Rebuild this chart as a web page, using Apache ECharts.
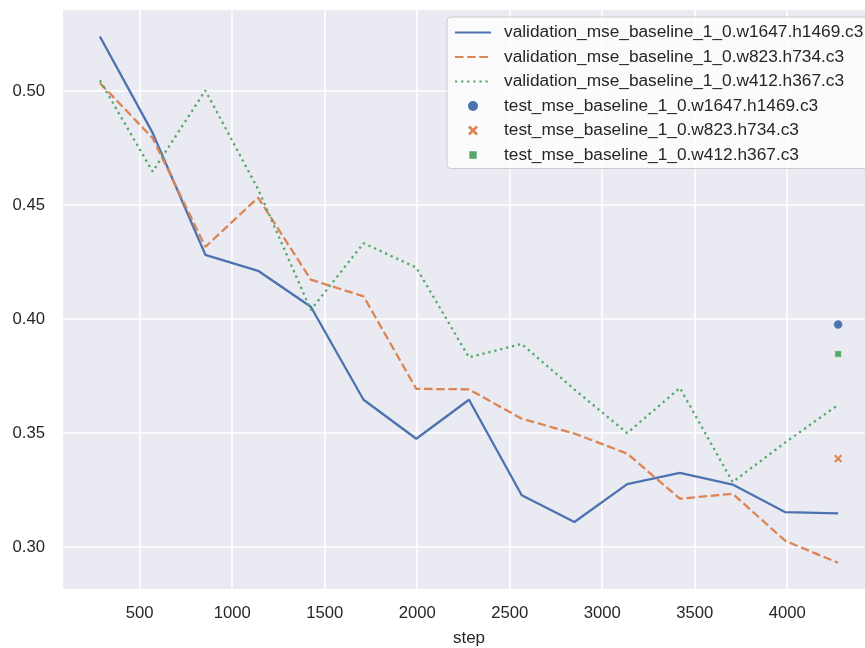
<!DOCTYPE html>
<html>
<head>
<meta charset="utf-8">
<script src="https://cdn.jsdelivr.net/npm/echarts@6/dist/echarts.min.js"></script>
<style>
  html, body { margin: 0; padding: 0; background: #ffffff; }
  #chart { width: 865px; height: 648px; }
</style>
</head>
<body>
<div id="chart"></div>
<script>
// Training steps at which validation MSE was logged
const steps = [285, 570, 855, 1140, 1425, 1710, 1995, 2280, 2565, 2850, 3135, 3420, 3705, 3990, 4275];

// Validation MSE per resolution
const valW1647 = [0.524, 0.4817, 0.4282, 0.4212, 0.4054, 0.3646, 0.3475, 0.3646, 0.3227, 0.311, 0.3276, 0.3325, 0.3274, 0.3153, 0.3148];
const valW823  = [0.5036, 0.4794, 0.4317, 0.4533, 0.4173, 0.41, 0.3694, 0.3692, 0.3563, 0.3498, 0.341, 0.3212, 0.3234, 0.3027, 0.2931];
const valW412  = [0.5047, 0.4647, 0.5003, 0.457, 0.404, 0.4333, 0.4226, 0.3832, 0.3891, 0.3691, 0.35, 0.3698, 0.3285, 0.3459, 0.3624];

// Final test MSE, evaluated at the last step
const testStep = 4275;
const testW1647 = 0.3976;
const testW823 = 0.3388;
const testW412 = 0.3847;

// Series names
const names = [
  'validation_mse_baseline_1_0.w1647.h1469.c3',
  'validation_mse_baseline_1_0.w823.h734.c3',
  'validation_mse_baseline_1_0.w412.h367.c3',
  'test_mse_baseline_1_0.w1647.h1469.c3',
  'test_mse_baseline_1_0.w823.h734.c3',
  'test_mse_baseline_1_0.w412.h367.c3'
];

// Tick values
const xTicks = [500, 1000, 1500, 2000, 2500, 3000, 3500, 4000];
const yTicks = [0.30, 0.35, 0.40, 0.45, 0.50];

const colors = ['#4c72b0', '#dd8452', '#55a868'];
const FONT = '"Liberation Sans", Arial, sans-serif';
const LW = 2.3;

// Filled "X" marker
const xMarker = 'path://M0,2 L2,0 L5,3 L8,0 L10,2 L7,5 L10,8 L8,10 L5,7 L2,10 L0,8 L3,5 Z';
// Square marker inset in its box (degenerate corner points keep the box size)
const squareMarker = 'path://M0,0 L0,0 Z M1.2,1.2 L7.8,1.2 L7.8,7.8 L1.2,7.8 Z M9,9 L9,9 Z';

function pairs(xs, ys) { return xs.map((x, i) => [x, ys[i]]); }

const chart = echarts.init(document.getElementById('chart'), null, { renderer: 'canvas' });

const lineSeries = (name, ys, color, dash) => ({
  name: name,
  type: 'line',
  data: pairs(steps, ys),
  symbol: 'none',
  lineStyle: { color: color, width: LW, type: dash, cap: 'butt' },
  itemStyle: { color: color },
  emphasis: { disabled: true },
  animation: false
});

const pointSeries = (name, y, color, symbol, size) => ({
  name: name,
  type: 'scatter',
  data: [[testStep, y]],
  symbol: symbol,
  symbolSize: size,
  symbolKeepAspect: true,
  itemStyle: { color: color, opacity: 1, borderColor: '#ffffff', borderWidth: 0.5 },
  emphasis: { disabled: true },
  animation: false
});

const option = {
  animation: false,
  backgroundColor: '#ffffff',
  textStyle: { fontFamily: FONT },
  grid: {
    left: 63, top: 10, right: -10, bottom: 59,
    outerBoundsMode: 'none',
    containLabel: false,
    show: true, backgroundColor: '#eaeaf2', borderWidth: 0
  },
  xAxis: {
    type: 'value',
    min: 85.5, max: 4474.5,
    name: 'step',
    nameLocation: 'middle',
    nameGap: 41,
    nameTextStyle: { color: '#262626', fontSize: 17, fontFamily: FONT },
    axisLine: { show: false },
    axisTick: { show: false, customValues: xTicks },
    axisLabel: {
      customValues: xTicks,
      color: '#262626', fontSize: 16.7, fontFamily: FONT, margin: 16,
      formatter: v => String(v)
    },
    splitLine: { show: true, lineStyle: { color: '#ffffff', width: 1.6 } }
  },
  yAxis: {
    type: 'value',
    min: 0.2816, max: 0.5356,
    axisLine: { show: false },
    axisTick: { show: false, customValues: yTicks },
    axisLabel: {
      customValues: yTicks,
      color: '#262626', fontSize: 16.7, fontFamily: FONT, margin: 18,
      formatter: v => v.toFixed(2)
    },
    splitLine: { show: true, lineStyle: { color: '#ffffff', width: 1.6 } }
  },
  legend: {
    orient: 'vertical',
    left: 447, top: 17,
    padding: [5.5, 12, 3.5, 7],
    itemGap: 4.5,
    itemWidth: 36,
    itemHeight: 10,
    backgroundColor: 'rgba(255,255,255,0.8)',
    borderColor: '#cccccc',
    borderWidth: 1,
    borderRadius: 4,
    selectedMode: false,
    textStyle: { color: '#262626', fontSize: 17.3, fontFamily: FONT, lineHeight: 20, padding: [0, 0, 0, 8] },
    data: [
      { name: names[0], itemStyle: { opacity: 0 } },
      { name: names[1], itemStyle: { opacity: 0 } },
      { name: names[2], itemStyle: { opacity: 0 } },
      { name: names[3], icon: 'circle', itemStyle: { borderWidth: 0 } },
      { name: names[4], icon: xMarker, itemStyle: { borderWidth: 0 } },
      { name: names[5], icon: squareMarker, itemStyle: { borderWidth: 0 } }
    ]
  },
  series: [
    lineSeries(names[0], valW1647, colors[0], 'solid'),
    lineSeries(names[1], valW823, colors[1], [3.7 * LW, 1.6 * LW]),
    lineSeries(names[2], valW412, colors[2], [1 * LW, 1.65 * LW]),
    pointSeries(names[3], testW1647, colors[0], 'circle', 9),
    pointSeries(names[4], testW823, colors[1], xMarker, 9),
    pointSeries(names[5], testW412, colors[2], squareMarker, 9)
  ]
};

chart.setOption(option);
</script>
</body>
</html>
